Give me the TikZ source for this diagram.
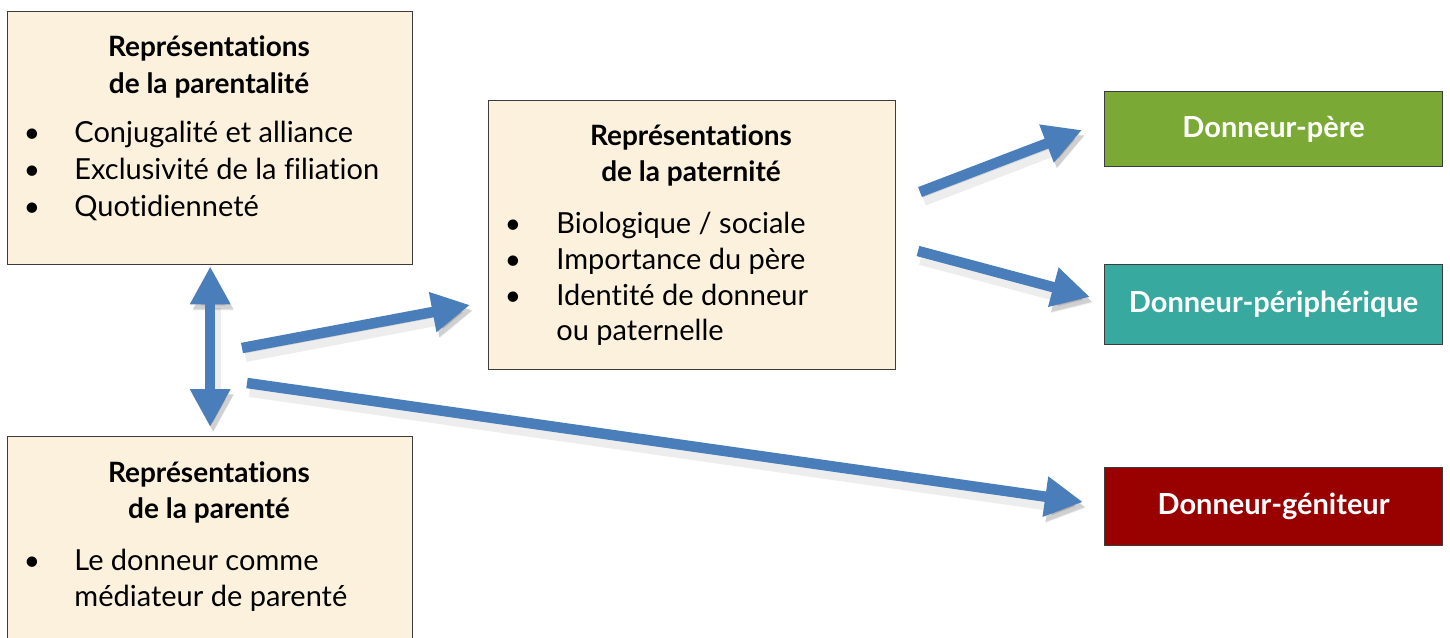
\documentclass[tikz,border=0pt]{standalone}
\usepackage{fontspec}
\setmainfont{Lato}[Ligatures=NoCommon]
\usetikzlibrary{arrows.meta}
\definecolor{parch}{RGB}{251,241,221}
\definecolor{arrowblue}{RGB}{74,126,187}
\definecolor{dgreen}{RGB}{122,170,53}
\definecolor{dteal}{RGB}{55,169,159}
\definecolor{dred}{RGB}{153,0,0}
\definecolor{edgegray}{RGB}{60,60,60}
\begin{document}
\begin{tikzpicture}[x=0.5pt,y=-0.5pt,
  panel/.style={draw=edgegray, line width=0.7pt, fill=parch, inner sep=0pt, anchor=north west},
  tag/.style={draw=edgegray, line width=0.6pt, inner sep=0pt, anchor=north west, minimum width=169pt},
  titletxt/.style={anchor=mid, inner sep=0pt, font=\bfseries\fontsize{14}{16}\selectfont},
  itemtxt/.style={anchor=mid west, inner sep=0pt, font=\fontsize{14.5}{17}\selectfont},
  bul/.style={anchor=mid, inner sep=0pt, font=\fontsize{14}{16}\selectfont},
  lbl/.style={anchor=mid, inner sep=0pt, text=white, font=\bfseries\fontsize{14.5}{17}\selectfont},
  shadowed/.style={
    preaction={draw=black, opacity=0.07, line width=8pt, transform canvas={xshift=1.5pt,yshift=-3pt}},
    preaction={draw=black, opacity=0.12, transform canvas={xshift=1.5pt,yshift=-2.5pt}}},
  conn/.style={draw=arrowblue, line width=5.25pt, -{Triangle[width=19pt,length=19pt]}, shadowed},
  dbl/.style={draw=arrowblue, line width=5.25pt, {Triangle[width=19pt,length=19pt]}-{Triangle[width=19pt,length=19pt]}, shadowed}
]
\clip (0,0) rectangle (1450,637);
\fill[white] (0,0) rectangle (1450,637);

% boxes
\node[panel, minimum width=202.5pt, minimum height=126.5pt] (parentalite) at (7,11) {};
\node[panel, minimum width=203.5pt, minimum height=134.5pt] (paternite) at (488,100) {};
\node[panel, minimum width=202.5pt, minimum height=130pt] (parente) at (7,436) {};
\node[tag, fill=dgreen, minimum height=37.5pt] (pere) at (1104,91) {};
\node[tag, fill=dteal, minimum height=40pt] (periph) at (1104,264) {};
\node[tag, fill=dred, minimum height=39pt] (geniteur) at (1104,467) {};

% box 1 text
\node[titletxt] (t1a) at (209,51) {Représentations};
\node[titletxt] (t1b) at (209,88) {de la parentalité};
\node[bul] (b1a) at (32,137) {•};
\node[bul] (b1b) at (32,174) {•};
\node[bul] (b1c) at (32,211) {•};
\node[itemtxt] (i1a) at (74,137) {Conjugalité et alliance};
\node[itemtxt] (i1b) at (74,174) {Exclusivité de la filiation};
\node[itemtxt] (i1c) at (74,211) {Quotidienneté};

% box 2 text
\node[titletxt] (t2a) at (691,140) {Représentations};
\node[titletxt] (t2b) at (691,176) {de la paternité};
\node[bul] (b2a) at (513,228) {•};
\node[bul] (b2b) at (513,264) {•};
\node[bul] (b2c) at (513,300) {•};
\node[itemtxt] (i2a) at (556,228) {Biologique / sociale};
\node[itemtxt] (i2b) at (556,264) {Importance du père};
\node[itemtxt] (i2c) at (556,300) {Identité de donneur};
\node[itemtxt] (i2d) at (556,335) {ou paternelle};

% box 3 text
\node[titletxt] (t3a) at (209,477) {Représentations};
\node[titletxt] (t3b) at (209,513) {de la parenté};
\node[bul] (b3a) at (32,565) {•};
\node[itemtxt] (i3a) at (74,565) {Le donneur comme};
\node[itemtxt] (i3b) at (74,601) {médiateur de parenté};

% coloured labels
\node[lbl] (lpere) at ([yshift=-1.5pt]pere.center) {Donneur-père};
\node[lbl] (lperiph) at ([yshift=-1.5pt]periph.center) {Donneur-périphérique};
\node[lbl] (lgen) at ([yshift=-1.5pt]geniteur.center) {Donneur-géniteur};

% arrow end points
\coordinate (aS) at (242,348);
\coordinate (aE) at (470,305);
\coordinate (bS) at (247,383);
\coordinate (bE) at (1083,502);
\coordinate (cS) at (920,192);
\coordinate (cE) at (1082,130);
\coordinate (dS) at (918,251);
\coordinate (dE) at (1090,297);

\draw[dbl] ([yshift=-0.5pt]parentalite.south) -- ([yshift=4.5pt]parente.north);
\draw[conn] (aS) -- (aE);
\draw[conn] (bS) -- (bE);
\draw[conn] (cS) -- (cE);
\draw[conn] (dS) -- (dE);
\end{tikzpicture}
\end{document}
